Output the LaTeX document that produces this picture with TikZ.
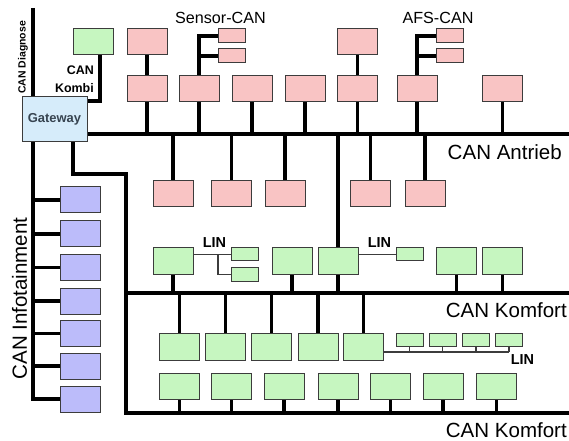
\documentclass[tikz,border=0pt]{standalone}
\usepackage{fontspec}
\setmainfont{Liberation Sans}
\usetikzlibrary{backgrounds}
\definecolor{pinkc}{RGB}{249,196,196}
\definecolor{greenc}{RGB}{198,246,192}
\definecolor{bluec}{RGB}{188,188,250}
\definecolor{gwc}{RGB}{214,236,250}
\definecolor{bordc}{RGB}{60,60,60}
\definecolor{gwtext}{RGB}{55,68,80}
\tikzset{
  box/.style={draw=bordc, line width=1bp, inner sep=0pt, minimum width=40bp, minimum height=26bp},
  pink/.style={box, fill=pinkc},
  green/.style={box, fill=greenc},
  blue/.style={box, fill=bluec},
  spink/.style={pink, minimum width=27bp, minimum height=14bp},
  sgreen/.style={green, minimum width=27bp, minimum height=13bp},
  bus/.style={line width=4.6bp},
  drop/.style={line width=3.8bp},
  lin/.style={line width=1.1bp, draw=bordc},
  big/.style={font=\fontsize{20.6}{24}\selectfont, inner sep=0pt},
  small/.style={font=\fontsize{16.2}{19}\selectfont, inner sep=0pt},
  linlab/.style={font=\fontsize{14.5}{17}\selectfont\bfseries, inner sep=0pt}
}
\begin{document}
\begin{tikzpicture}[x=1bp,y=-1bp]
\useasboundingbox (0,0) rectangle (569,441);
% top nodes
\node[green] (kombi) at (93,42) {};
\node[pink] (t1) at (147,42) {};
\node[pink] (t2) at (357.5,42) {};
\node[spink] (s1) at (231.5,36) {};
\node[spink] (s2) at (231.5,56) {};
\node[spink] (a1) at (450,36) {};
\node[spink] (a2) at (450,56) {};
% second pink row
\foreach \n/\x in {m1/147,m2/199,m3/252,m4/305,m5/357.5,m6/417,m7/502.5}
  \node[pink] (\n) at (\x,89) {};
% lower pink row
\foreach \n/\x in {l1/173,l2/231.5,l3/285,l4/370.5,l5/425}
  \node[pink] (\n) at (\x,194) {};
% gateway
\node[draw=bordc, line width=1bp, fill=gwc, minimum width=65bp, minimum height=45bp, inner sep=0pt,
      text=gwtext, font=\fontsize{13}{15}\selectfont\bfseries] (gw) at (54.5,119.5) {Gateway};
% green LIN row
\foreach \n/\x in {g1/173,g2/292,g3/338,g4/456.5,g5/502.5}
  \node[green] (\n) at (\x,261) {};
\node[sgreen] (n1) at (245,254.5) {};
\node[sgreen] (n2) at (245,274.5) {};
\node[sgreen] (n3) at (409.5,254.5) {};
% komfort rows
\foreach \n/\x in {k1/179.5,k2/225.5,k3/271.5,k4/318,k5/363.5}
  \node[green, minimum height=27bp] (\n) at (\x,346.5) {};
\foreach \n/\x in {q1/409.5,q2/442.5,q3/476,q4/509}
  \node[sgreen] (\n) at (\x,339.5) {};
\foreach \n/\x in {b1/179.5,b2/231.5,b3/284,b4/338,b5/390.5,b6/443,b7/496.5}
  \node[green] (\n) at (\x,386) {};
% infotainment
\foreach \n/\y in {i1/200,i2/234,i3/267.5,i4/301,i5/333.5,i6/366,i7/399}
  \node[blue] (\n) at (80,\y) {};
% coordinates
\coordinate (antE) at (569,134);
\coordinate (komM) at (569,293);
\coordinate (komB) at (569,413);
\coordinate (diagT) at (33,8);
\coordinate (gwd) at (73,174);
\coordinate (kl) at (126,174);
\coordinate (kc) at (100,101);
\coordinate (lj) at (218,254.5);
\coordinate (lb) at (509,352);
% labels
\node[small] (lsensor) at (220.5,18) {Sensor-CAN};
\node[small] (lafs) at (438,18) {AFS-CAN};
\node[font=\fontsize{12.5}{18}\selectfont\bfseries, align=right, anchor=east, inner sep=0pt] (lkombi) at (94,79) {CAN\\Kombi};
\node[rotate=90, font=\fontsize{10.5}{12}\selectfont\bfseries, inner sep=0pt] (ldiag) at (23,57.5) {CAN Diagnose};
\node[big, anchor=base east] (lant) at (562,159.5) {CAN Antrieb};
\node[big, anchor=base east] (lkom1) at (567,317) {CAN Komfort};
\node[big, anchor=base east] (lkom2) at (567,437) {CAN Komfort};
\node[big, rotate=90] (linfo) at (19.5,298.5) {CAN Infotainment};
\node[linlab] (lin1) at (214.5,243) {LIN};
\node[linlab] (lin2) at (379.5,243) {LIN};
\node[linlab] (lin3) at (522.5,359.5) {LIN};
% connectors
\begin{scope}[on background layer]
  % CAN Antrieb
  \draw[bus] (gw.east |- antE) -- (antE);
  \foreach \n in {m1,m2,m3,m4,m5,m6,m7} \draw[drop] (\n.south) -- (\n.south |- antE);
  \draw[drop] (t1) -- (m1);
  \draw[drop] (t2) -- (m5);
  \draw[drop] (m2.north) -- (m2.north |- s1.west) -- (s1.west);
  \draw[drop] (m2.north |- s2.west) -- (s2.west);
  \draw[drop] (m6.north) -- (m6.north |- a1.west) -- (a1.west);
  \draw[drop] (m6.north |- a2.west) -- (a2.west);
  \foreach \n in {l1,l2,l3,l4,l5} \draw[drop] (\n.north) -- (\n.north |- antE);
  \draw[drop] (g3.north) -- (g3.north |- antE);
  % Kombi
  \draw[drop] (kombi.south -| kc) -- (kc) -- (kc -| gw.east);
  % Diagnose / Infotainment
  \draw[bus] (diagT) -- (diagT |- i7) -- (i7.west);
  \foreach \n in {i1,i2,i3,i4,i5,i6} \draw[drop] (diagT |- \n) -- (\n.west);
  % Komfort
  \draw[bus] (gw.south -| gwd) -- (gwd) -- (kl) -- (kl |- komB) -- (komB);
  \draw[bus] (kl |- komM) -- (komM);
  \foreach \n in {g1,g2,g3,g4,g5} \draw[drop] (\n.south) -- (\n.south |- komM);
  \foreach \n in {k1,k2,k3,k4,k5} \draw[drop] (\n.north) -- (\n.north |- komM);
  \foreach \n in {b1,b2,b3,b4,b5,b6,b7} \draw[drop] (\n.south) -- (\n.south |- komB);
  % LIN
  \draw[lin] (g1.east |- n1) -- (n1.west);
  \draw[lin] (lj) -- (lj |- n2) -- (n2.west);
  \draw[lin] (g3.east |- n3) -- (n3.west);
  \draw[lin] (k5.east |- lb) -- (lb);
  \foreach \n in {q1,q2,q3,q4} \draw[lin] (\n.south) -- (\n.south |- lb);
\end{scope}
\end{tikzpicture}
\end{document}
